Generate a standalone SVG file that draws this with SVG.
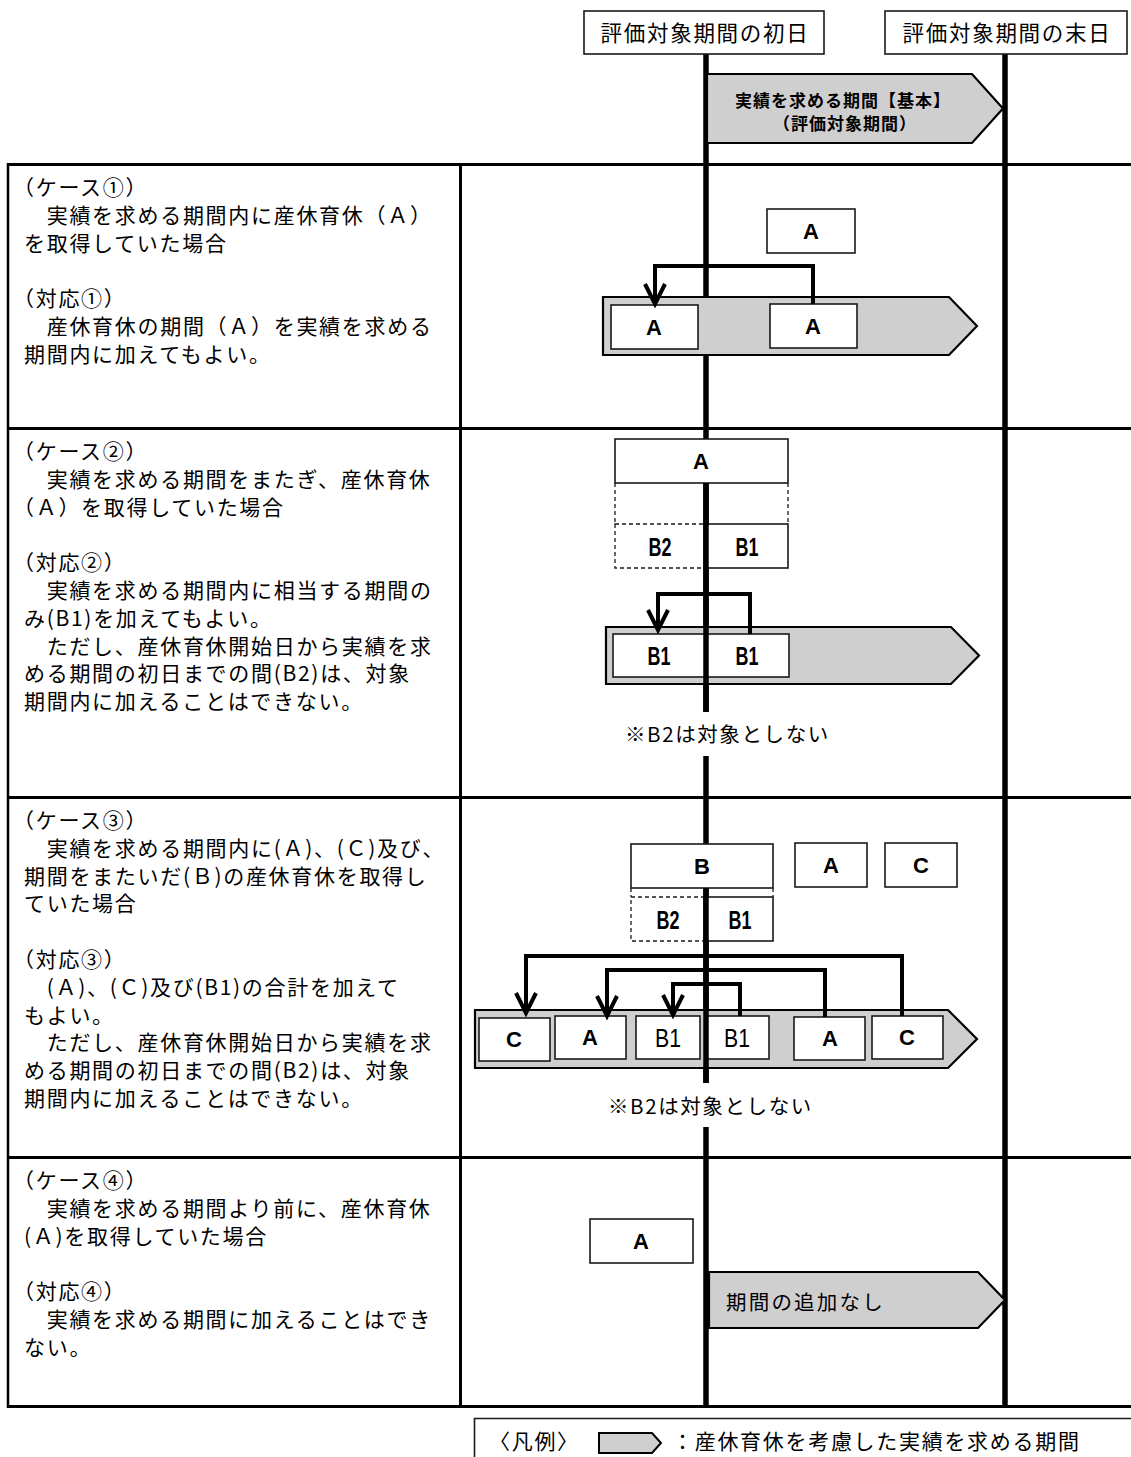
<svg xmlns="http://www.w3.org/2000/svg" width="1131" height="1457" viewBox="0 0 1131 1457">
<defs>
<style>
.bg{fill:#fff}
.box{fill:#fff;stroke:#1a1a1a;stroke-width:1.6}
.dash{fill:none;stroke:#1a1a1a;stroke-width:1.3;stroke-dasharray:4 3}
.period{fill:#d0cfd0;stroke:#000;stroke-width:2.2}
.tl{stroke:#000;stroke-width:5.5;fill:none}
.grid{stroke:#000;stroke-width:3;fill:none}
.conn{fill:none;stroke:#000;stroke-width:4;marker-end:url(#ah)}
.body{font-family:"Noto Sans CJK JP","Noto Sans CJK SC",sans-serif;font-size:21px;letter-spacing:1.7px;fill:#000}
.hdr{font-family:"Noto Sans CJK JP",sans-serif;font-size:21.5px;letter-spacing:1.7px;text-anchor:middle;fill:#000}
.note{font-family:"Noto Sans CJK JP",sans-serif;font-size:20.5px;letter-spacing:1.6px;fill:#000}
.base{font-family:"Noto Sans CJK JP",sans-serif;font-size:17px;font-weight:bold;letter-spacing:1px;text-anchor:middle;fill:#000}
.lbl{font-family:"Liberation Sans",Arial,sans-serif;font-size:22px;font-weight:bold;text-anchor:middle;fill:#000}
.lbn{font-family:"Liberation Sans",Arial,sans-serif;font-size:26px;font-weight:bold;text-anchor:middle;fill:#000}
.lbr{font-family:"Liberation Sans",Arial,sans-serif;font-size:25px;text-anchor:middle;fill:#000}
</style>
<marker id="ah" markerUnits="userSpaceOnUse" markerWidth="30" markerHeight="28" viewBox="-4 -14 30 28" refX="20" refY="0" orient="auto">
<path d="M0,-10 L20,0 L0,10" fill="none" stroke="#000" stroke-width="4"/>
</marker>
</defs>
<rect class="bg" x="0" y="0" width="1131" height="1457"/>

<!-- timelines (underneath) -->
<g id="timelines">
<line class="tl" x1="706" y1="54" x2="706" y2="712"/>
<line class="tl" x1="706" y1="756" x2="706" y2="1083"/>
<line class="tl" x1="706" y1="1127" x2="706" y2="1406"/>
<line class="tl" x1="1005" y1="54" x2="1005" y2="1406"/>
</g>

<!-- table grid -->
<g id="grid">
<line class="grid" x1="7" y1="164.5" x2="1131" y2="164.5"/>
<line class="grid" x1="7" y1="428.5" x2="1131" y2="428.5"/>
<line class="grid" x1="7" y1="797.5" x2="1131" y2="797.5"/>
<line class="grid" x1="7" y1="1157.5" x2="1131" y2="1157.5"/>
<line class="grid" x1="7" y1="1406.5" x2="1131" y2="1406.5"/>
<line class="grid" x1="8" y1="163" x2="8" y2="1408" style="stroke-width:2.5"/>
<line class="grid" x1="460.5" y1="163" x2="460.5" y2="1408"/>
</g>

<!-- header -->
<g id="hdr-start">
<rect class="box" x="584" y="11" width="240" height="43"/>
<text class="hdr" x="705" y="41">評価対象期間の初日</text>
</g>
<g id="hdr-end">
<rect class="box" x="885" y="11" width="242" height="43"/>
<text class="hdr" x="1007" y="41">評価対象期間の末日</text>
</g>
<g id="basic-period">
<polygon class="period" points="707,74 972,74 1003,108.5 972,143 707,143"/>
<text class="base" x="843" y="107">実績を求める期間【基本】</text>
<text class="base" x="845" y="130">（評価対象期間）</text>
</g>

<!-- case 1 -->
<g id="case1-text">
<text class="body" x="13" y="195">（ケース①）</text>
<text class="body" x="46.7" y="222.8">実績を求める期間内に産休育休（Ａ）</text>
<text class="body" x="24" y="250.6">を取得していた場合</text>
<text class="body" x="13" y="306.2">（対応①）</text>
<text class="body" x="46.7" y="334">産休育休の期間（Ａ）を実績を求める</text>
<text class="body" x="24" y="361.8">期間内に加えてもよい。</text>
</g>
<g id="c1-A-src"><rect class="box" x="767" y="209" width="88" height="44"/><text class="lbl" x="811" y="239">A</text></g>
<g id="c1-period"><polygon class="period" points="603,297 949,297 977,326 949,355 603,355"/></g>
<g id="c1-A-left"><rect class="box" x="611" y="305" width="87" height="44"/><text class="lbl" x="654" y="335">A</text></g>
<g id="c1-A-right"><rect class="box" x="770" y="304" width="87" height="44"/><text class="lbl" x="813" y="334">A</text></g>

<!-- case 2 -->
<g id="case2-text">
<text class="body" x="13" y="459">（ケース②）</text>
<text class="body" x="46.7" y="486.8">実績を求める期間をまたぎ、産休育休</text>
<text class="body" x="13" y="514.6">（Ａ）を取得していた場合</text>
<text class="body" x="13" y="570.2">（対応②）</text>
<text class="body" x="46.7" y="598">実績を求める期間内に相当する期間の</text>
<text class="body" x="24" y="625.8">み(B1)を加えてもよい。</text>
<text class="body" x="46.7" y="653.6">ただし、産休育休開始日から実績を求</text>
<text class="body" x="24" y="681.4">める期間の初日までの間(B2)は、対象</text>
<text class="body" x="24" y="709.2">期間内に加えることはできない。</text>
</g>
<g id="c2-A"><rect class="box" x="615" y="439" width="173" height="44"/><text class="lbl" x="701" y="469">A</text></g>
<g id="c2-span">
<line class="dash" x1="615" y1="483" x2="615" y2="524"/>
<line class="dash" x1="788" y1="483" x2="788" y2="524"/>
</g>
<g id="c2-B2"><rect class="dash" x="615" y="524" width="91" height="44"/><text class="lbn" x="660" y="556" textLength="23" lengthAdjust="spacingAndGlyphs">B2</text></g>
<g id="c2-B1"><rect class="box" x="706" y="524" width="82" height="44"/><text class="lbn" x="747" y="556" textLength="23" lengthAdjust="spacingAndGlyphs">B1</text></g>
<g id="c2-period"><polygon class="period" points="606,627 951,627 979,655.5 951,684 606,684"/></g>
<g id="c2-B1-left"><rect class="box" x="613" y="634" width="93" height="43"/><text class="lbn" x="659" y="665" textLength="23" lengthAdjust="spacingAndGlyphs">B1</text></g>
<g id="c2-B1-right"><rect class="box" x="706" y="634" width="83" height="43"/><text class="lbn" x="747" y="665" textLength="23" lengthAdjust="spacingAndGlyphs">B1</text></g>
<text class="note" x="625" y="742">※B2は対象としない</text>

<!-- case 3 -->
<g id="case3-text">
<text class="body" x="13" y="828">（ケース③）</text>
<text class="body" x="46.7" y="855.8">実績を求める期間内に(Ａ)、(Ｃ)及び、</text>
<text class="body" x="24" y="883.6">期間をまたいだ(Ｂ)の産休育休を取得し</text>
<text class="body" x="24" y="911.4">ていた場合</text>
<text class="body" x="13" y="967">（対応③）</text>
<text class="body" x="46.7" y="994.8">(Ａ)、(Ｃ)及び(B1)の合計を加えて</text>
<text class="body" x="24" y="1022.6">もよい。</text>
<text class="body" x="46.7" y="1050.4">ただし、産休育休開始日から実績を求</text>
<text class="body" x="24" y="1078.2">める期間の初日までの間(B2)は、対象</text>
<text class="body" x="24" y="1106">期間内に加えることはできない。</text>
</g>
<g id="c3-B"><rect class="box" x="631" y="844" width="142" height="44"/><text class="lbl" x="702" y="874">B</text></g>
<g id="c3-A-src"><rect class="box" x="795" y="843" width="72" height="44"/><text class="lbl" x="831" y="873">A</text></g>
<g id="c3-C-src"><rect class="box" x="885" y="843" width="72" height="44"/><text class="lbl" x="921" y="873">C</text></g>
<g id="c3-span">
<line class="dash" x1="631" y1="888" x2="631" y2="897"/>
<line class="dash" x1="773" y1="888" x2="773" y2="897"/>
</g>
<g id="c3-B2"><rect class="dash" x="631" y="897" width="75" height="44"/><text class="lbn" x="668" y="929" textLength="23" lengthAdjust="spacingAndGlyphs">B2</text></g>
<g id="c3-B1"><rect class="box" x="706" y="897" width="67" height="44"/><text class="lbn" x="740" y="929" textLength="23" lengthAdjust="spacingAndGlyphs">B1</text></g>
<g id="c3-period"><polygon class="period" points="475,1010 948,1010 977,1039 948,1068 475,1068"/></g>
<g id="c3-C-left"><rect class="box" x="479" y="1018" width="71" height="43"/><text class="lbl" x="514" y="1047">C</text></g>
<g id="c3-A-left"><rect class="box" x="555" y="1016" width="71" height="43"/><text class="lbl" x="590" y="1045">A</text></g>
<g id="c3-B1-left"><rect class="box" x="636" y="1016" width="64" height="43"/><text class="lbr" x="668" y="1047" textLength="26" lengthAdjust="spacingAndGlyphs">B1</text></g>
<g id="c3-B1-right"><rect class="box" x="706" y="1016" width="63" height="43"/><text class="lbr" x="737" y="1047" textLength="26" lengthAdjust="spacingAndGlyphs">B1</text></g>
<g id="c3-A-right"><rect class="box" x="794" y="1017" width="71" height="43"/><text class="lbl" x="830" y="1046">A</text></g>
<g id="c3-C-right"><rect class="box" x="872" y="1016" width="71" height="43"/><text class="lbl" x="907" y="1045">C</text></g>
<text class="note" x="608" y="1114">※B2は対象としない</text>

<!-- case 4 -->
<g id="case4-text">
<text class="body" x="13" y="1188">（ケース④）</text>
<text class="body" x="46.7" y="1215.8">実績を求める期間より前に、産休育休</text>
<text class="body" x="24" y="1243.6">(Ａ)を取得していた場合</text>
<text class="body" x="13" y="1299.2">（対応④）</text>
<text class="body" x="46.7" y="1327">実績を求める期間に加えることはでき</text>
<text class="body" x="24" y="1354.8">ない。</text>
</g>
<g id="c4-A"><rect class="box" x="590" y="1219" width="103" height="44"/><text class="lbl" x="641" y="1249">A</text></g>
<g id="c4-period">
<polygon class="period" points="709,1272 978,1272 1005,1300 978,1328 709,1328"/>
<text class="note" x="726" y="1310" style="letter-spacing:2.2px">期間の追加なし</text>
</g>

<!-- timeline overlays (drawn over boxes in cases 2 and 3) -->
<g id="timeline-overlays">
<line class="tl" x1="706" y1="483" x2="706" y2="712"/>
<line class="tl" x1="706" y1="888" x2="706" y2="1083"/>
</g>

<!-- connectors -->
<g id="connectors">
<path class="conn" d="M813,304 V266 H655 V304"/>
<path class="conn" d="M750,634 V594 H658 V630"/>
<path class="conn" d="M902,1016 V956 H526 V1013"/>
<path class="conn" d="M825,1017 V970 H607 V1016"/>
<path class="conn" d="M740,1016 V984 H673 V1015"/>
</g>

<!-- legend -->
<g id="legend">
<path d="M1131,1418.5 H474.5 V1457" fill="none" stroke="#1a1a1a" stroke-width="1.6"/>
<text class="body" x="489" y="1449">〈凡例〉</text>
<polygon class="period" points="599,1433 652,1433 661,1443 652,1453 599,1453" style="stroke-width:2"/>
<text class="body" x="672" y="1449">：産休育休を考慮した実績を求める期間</text>
</g>
</svg>
